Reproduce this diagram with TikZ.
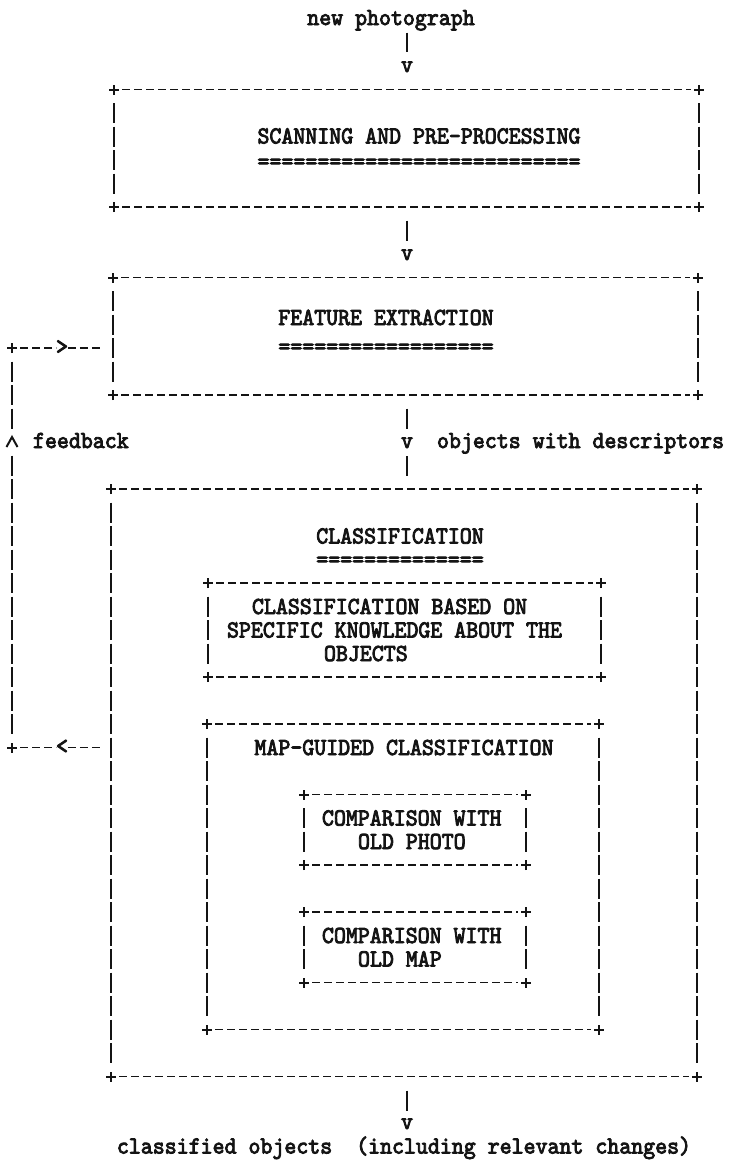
\documentclass[tikz,border=0pt]{standalone}
\usepackage{fontspec}
\newfontfamily\tw{lmmono10-regular.otf}[FakeStretch=0.93, FakeBold=3.4]
\usetikzlibrary{fit}
\definecolor{ink}{RGB}{20,20,20}
% row centre (y grows downwards) and text baselines
\newcommand\Y[1]{19+23.5*(#1)}
\newcommand\B[1]{26.5+23.5*(#1)}
\newcommand\Bl[1]{25+23.5*(#1)}
\newcommand\Bq[1]{25+23.5*(#1)}
\tikzset{
  txt/.style={font=\tw\fontsize{24.5}{28}\selectfont, inner sep=0pt, outer sep=0pt, text=ink},
  hdash/.style={draw=ink, line width=1.8pt, dash pattern=on 8pt off 4pt},
  vrule/.style={draw=ink, line width=2pt, dash pattern=on 20pt off 3.5pt},
  solidline/.style={draw=ink, line width=2pt},
  frame/.style={inner sep=0pt, outer sep=0pt},
}
\newcommand\plusat[1]{\draw[solidline] ([xshift=-5pt]#1) -- ([xshift=5pt]#1) ([yshift=-5pt]#1) -- ([yshift=5pt]#1);}
% name, x1, row1, x2, row2
\newcommand\asciibox[5]{%
  \coordinate (#1-a) at (#2,{\Y{#3}});
  \coordinate (#1-b) at (#4,{\Y{#5}});
  \node[frame, fit=(#1-a)(#1-b)] (#1) {};
  \draw[hdash] ([xshift=8pt]#1.north west) -- ([xshift=-8pt]#1.north east);
  \draw[hdash] ([xshift=8pt]#1.south west) -- ([xshift=-8pt]#1.south east);
  \draw[vrule] ([yshift=-13.5pt]#1.north west) -- ([yshift=13.5pt]#1.south west);
  \draw[vrule] ([yshift=-13.5pt]#1.north east) -- ([yshift=13.5pt]#1.south east);
  \plusat{#1.north west}\plusat{#1.north east}\plusat{#1.south west}\plusat{#1.south east}%
}
\begin{document}
\begin{tikzpicture}[x=1pt,y=-1pt]
\fill[white] (0,0) rectangle (731,1160);
\useasboundingbox (0,0) rectangle (731,1160);

% input
\node[txt, anchor=base] (tin) at (391,25) {new photograph};
\node[txt, anchor=base] (v1) at (407,72) {v};
\draw[solidline] ([yshift=-2pt]tin.south -| v1.north) -- ([yshift=9pt]v1.north);

% box 1
\asciibox{box1}{114}{3}{699}{8}
\node[txt, anchor=base] (t1) at (419,143.5) {SCANNING AND PRE-PROCESSING};
\node[txt, anchor=base] (u1) at (419,169) {===========================};
\node[txt, anchor=base] (v2) at (407,{\Bl{10}}) {v};
\draw[solidline, shorten <=13.5pt, shorten >=8.5pt] (box1.south -| v2.north) -- (v2.north);

% box 2
\asciibox{box2}{113}{11}{698}{16}
\node[txt, anchor=base] (t2) at (386,325) {FEATURE EXTRACTION};
\node[txt, anchor=base] (u2) at (386,354) {==================};
\node[txt, anchor=base] (v3) at (407,{\Bl{18}}) {v};
\node[txt, anchor=base west] (lab3) at (437,{\Bl{18}}) {objects with descriptors};
\draw[solidline, shorten <=13.5pt, shorten >=8pt] (box2.south -| v3.north) -- (v3.north);

% box 3
\asciibox{box3}{111}{20}{697}{45}
\draw[solidline, shorten <=8pt, shorten >=13.5pt] (v3.south) -- (v3.south |- box3.north);
\node[txt, anchor=base] (t3) at (400,{\B{22}}) {CLASSIFICATION};
\node[txt, anchor=base] (u3) at (400,{\Bq{23}+1.5}) {==============};

% box A
\asciibox{boxA}{208}{24}{601}{28}
\node[txt, anchor=base west] (a1) at (252,{\B{25}}) {CLASSIFICATION BASED ON};
\node[txt, anchor=base west] (a2) at (227,{\B{26}}) {SPECIFIC KNOWLEDGE ABOUT THE};
\node[txt, anchor=base west] (a3) at (324,{\B{27}}) {OBJECTS};

% box B
\asciibox{boxB}{207}{30}{599}{43}
\node[txt, anchor=base] (b1) at (404,{\B{31}}) {MAP-GUIDED CLASSIFICATION};

% box C
\asciibox{boxC}{304}{33}{526}{36}
\node[txt, anchor=base west] (c1) at (322,{\B{34}}) {COMPARISON WITH};
\node[txt, anchor=base west] (c2) at (358,{\B{35}}) {OLD PHOTO};

% box D
\asciibox{boxD}{304}{38}{526}{41}
\node[txt, anchor=base west] (d1) at (322,{\B{39}}) {COMPARISON WITH};
\node[txt, anchor=base west] (d2) at (358,{\B{40}}) {OLD MAP};

% output
\node[txt, anchor=base] (v5) at (407,1129) {v};
\draw[solidline, shorten <=14pt, shorten >=7pt] (box3.south -| v5.north) -- (v5.north);
\node[txt, anchor=base] (tout) at (404,1153.5) {classified objects\ \ (including relevant changes)};

% feedback loop
\coordinate (fbT) at (12,{\Y{14}});
\coordinate (fbB) at (12,{\Y{31}});
\coordinate (caret) at (12,{\Y{18}});
\node[txt, anchor=base] (gt) at (62,{\Bq{14}}) {>};
\node[txt, anchor=base] (lt) at (62,{\Bq{31}}) {<};
\draw[hdash] ([xshift=8pt]fbT) -- (gt.west |- fbT);
\draw[hdash, shorten >=11pt] (gt.east |- fbT) -- (fbT -| box2.west);
\draw[hdash] ([xshift=8pt]fbB) -- (lt.west |- fbB);
\draw[hdash, shorten >=9pt] (lt.east |- fbB) -- (fbB -| box3.west);
\plusat{fbT}\plusat{fbB}
\draw[vrule] ([yshift=-13.5pt]fbT) -- ([yshift=10pt]caret);
\draw[vrule] ([yshift=-13.5pt]caret) -- ([yshift=13.5pt]fbB);
\draw[solidline, line join=miter] ([xshift=-5.5pt,yshift=-5pt]caret) -- ([yshift=5pt]caret) -- ([xshift=5.5pt,yshift=-5pt]caret);
\node[txt, anchor=base west] (fb) at (33,{\Bl{18}}) {feedback};
\end{tikzpicture}
\end{document}
